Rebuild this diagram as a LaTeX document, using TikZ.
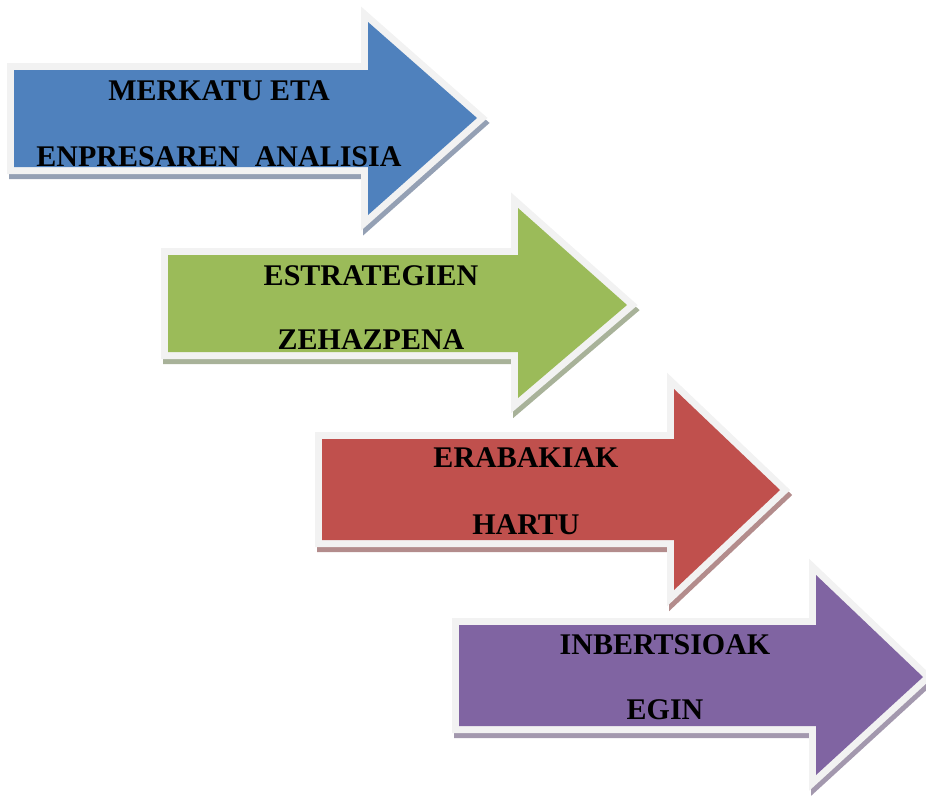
\documentclass[tikz,border=0pt]{standalone}
\usepackage{fontspec}
\setmainfont{Liberation Serif}
\definecolor{rim}{HTML}{F2F2F2}
\definecolor{stepblue}{HTML}{4F81BD}
\definecolor{stepgreen}{HTML}{9BBB59}
\definecolor{stepred}{HTML}{C0504D}
\definecolor{steppurple}{HTML}{8064A2}
\definecolor{blueshade}{HTML}{94A0B4}
\definecolor{greenshade}{HTML}{A8B299}
\definecolor{redshade}{HTML}{B38C8C}
\definecolor{purpleshade}{HTML}{A398AE}
% left, shaft top, shaft bottom, head base, head top, head bottom, tip x, tip y
\newcommand{\stagepath}[8]{(#1,#2) -- (#4,#2) -- (#4,#5) -- (#7,#8) -- (#4,#6) -- (#4,#3) -- (#1,#3) -- cycle}
\tikzset{
  stagearrow/.style n args={2}{
    preaction={draw=#2, fill=#2, line width=14pt, transform canvas={shift={(2pt,-5pt)}}},
    preaction={draw=rim, fill=rim, line width=14pt},
    fill=#1},
  stagetext/.style={font=\bfseries\fontsize{30}{32}\selectfont, anchor=base, inner sep=0pt}
}
\begin{document}
\begin{tikzpicture}[x=1pt, y=-1pt]
	\useasboundingbox (0,0) rectangle (926,796);
	% merkatu
	\path[stagearrow={stepblue}{blueshade}] \stagepath{14}{70}{167}{368}{22}{215}{477}{118};
	\node[stagetext] (merkatu) at (219,100) {MERKATU ETA};
	\node[stagetext] (analisia) at (219,166) {ENPRESAREN\ \ ANALISIA};
	% estrategia
	\path[stagearrow={stepgreen}{greenshade}] \stagepath{168}{255}{352}{518}{208}{398}{627}{305};
	\node[stagetext] (estrategien) at (371,285) {ESTRATEGIEN};
	\node[stagetext] (zehazpena) at (371,349) {ZEHAZPENA};
	% erabakiak
	\path[stagearrow={stepred}{redshade}] \stagepath{322}{439}{540}{674}{389}{590}{780}{490};
	\node[stagetext] (erabakiak) at (526,467) {ERABAKIAK};
	\node[stagetext] (hartu) at (526,534) {HARTU};
	% inbertsioak
	\path[stagearrow={steppurple}{purpleshade}] \stagepath{459}{625}{726}{816}{575}{775}{923}{677};
	\node[stagetext] (inbertsioak) at (665,654) {INBERTSIOAK};
	\node[stagetext] (egin) at (665,719) {EGIN};
\end{tikzpicture}
\end{document}
